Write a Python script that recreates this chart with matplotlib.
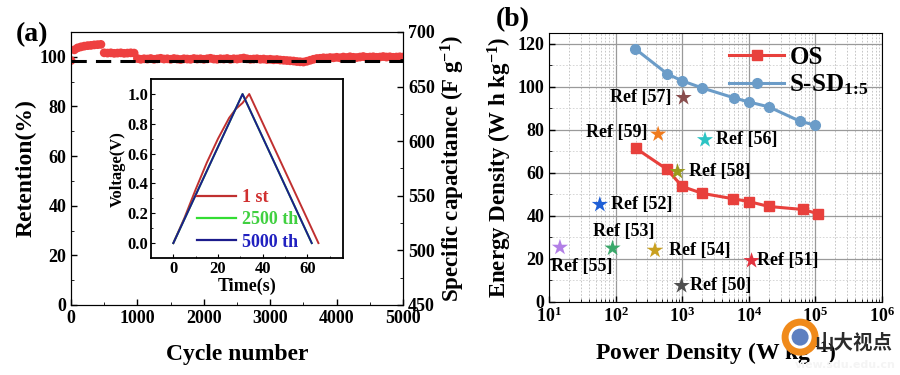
import numpy as np
import matplotlib.pyplot as plt
from matplotlib.lines import Line2D
from matplotlib.patches import Ellipse

plt.rcParams['font.family'] = ['Liberation Serif', 'DejaVu Serif']
plt.rcParams['font.weight'] = 'bold'
plt.rcParams['axes.labelweight'] = 'bold'
plt.rcParams['mathtext.fontset'] = 'custom'
plt.rcParams['mathtext.rm'] = 'Liberation Serif:bold'
plt.rcParams['mathtext.it'] = 'Liberation Serif:bold'
plt.rcParams['mathtext.bf'] = 'Liberation Serif:bold'

# (a) cycling retention, one value every 50 cycles
cycles = np.arange(0, 5001, 50)
retention = [
    98.5, 102.8, 103.6, 104.0, 104.3, 104.5, 104.6, 104.8, 104.9, 105.0,
    101.6, 101.5, 101.6, 101.4, 101.5, 101.6, 101.4, 101.5, 101.6, 101.5,
    99.3, 99.0, 99.2, 99.1, 99.3, 99.0, 99.2, 99.4, 99.1, 99.2,
    99.0, 99.3, 99.1, 98.9, 99.2, 99.1, 99.0, 99.3, 99.1, 99.2,
    99.0, 99.2, 99.4, 99.1, 99.0, 99.2, 99.1, 99.3, 99.0, 99.2,
    99.1, 99.3, 99.5, 99.2, 99.0, 99.1, 99.2, 99.0, 99.1, 98.9,
    99.0, 98.8, 98.9, 98.7, 98.6, 98.5, 98.4, 98.3, 98.1, 98.0,
    97.9, 98.2, 98.6, 99.0, 99.3, 99.4, 99.6, 99.5, 99.7, 99.6,
    99.8, 99.6, 99.9, 99.7, 100.0, 99.8, 99.7, 99.9, 100.1, 99.8,
    99.9, 100.0, 99.8, 99.9, 100.1, 99.9, 100.0, 99.8, 99.9, 100.0,
    99.9,
]
ref_line = 98.4

# inset GCD curves
t_1st = [0, 5, 10, 15, 20, 25, 28, 31, 34, 65]
v_1st = [0, 0.17, 0.36, 0.54, 0.70, 0.84, 0.90, 0.94, 1.0, 0.0]
t_2500 = [0, 31, 62]
v_2500 = [0, 1.0, 0.0]
t_5000 = [0, 31, 62]
v_5000 = [0, 1.0, 0.0]

# (b) Ragone plot
p_os = [200, 590, 1000, 2000, 5800, 10000, 20000, 65000, 110000]
e_os = [71.5, 61.7, 53.7, 50.5, 48.0, 46.7, 44.4, 43.0, 41.0]
p_ssd = [195, 600, 1000, 2000, 6000, 10000, 20000, 59000, 100000]
e_ssd = [117.8, 106.0, 102.8, 99.5, 94.9, 93.0, 90.7, 84.0, 82.2]

ref_names = ['Ref [57]', 'Ref [59]', 'Ref [56]', 'Ref [58]', 'Ref [52]',
             'Ref [53]', 'Ref [55]', 'Ref [54]', 'Ref [51]', 'Ref [50]']
ref_p = [1050, 435, 2200, 850, 58, 90, 14.6, 390, 11000, 980]
ref_e = [95.0, 78.0, 75.4, 60.6, 45.3, 25.0, 25.4, 24.0, 19.2, 7.6]
ref_colors = ['#8a4e4e', '#f07a1c', '#2cc4c4', '#9a9a1c', '#1f5fd6',
              '#3aa86a', '#b27fe6', '#c9a020', '#e2323e', '#4f4f4f']
# label offsets (points) and alignment
ref_offsets = [(-9, 0), (-8, 1), (8, 0), (8, 0), (8, 0),
               (8, 12), (16, -14), (10, 0), (4, 0), (6, 0)]
ref_align = ['right', 'right', 'left', 'left', 'left',
             'center', 'center', 'left', 'left', 'left']

fig = plt.figure(figsize=(9, 3.75), dpi=100)

# ---------- panel (a)
ax = fig.add_axes([0.0789, 0.1867, 0.369, 0.728])
ax.scatter(cycles, retention, s=40, color='#ee4040', edgecolors='none', zorder=3)
ax.axhline(ref_line, color='black', lw=2.2, ls=(0, (5, 3)), zorder=4)
ax.set_xlim(0, 5000)
ax.set_ylim(0, 110)
ax.set_xticks([0, 1000, 2000, 3000, 4000, 5000])
ax.set_yticks([0, 20, 40, 60, 80, 100])
ax.set_xticks(np.arange(500, 5000, 1000), minor=True)
ax.set_yticks(np.arange(10, 110, 20), minor=True)
ax.tick_params(labelsize=13, direction='in', length=4, width=1)
ax.tick_params(which='minor', direction='in', length=2)
ax.set_xlabel('Cycle number', fontsize=17, labelpad=12)
ax.set_ylabel('Retention(%)', fontsize=17, labelpad=2)

ax2 = ax.twinx()
ax2.set_ylim(450, 700)
ax2.set_yticks([450, 500, 550, 600, 650, 700])
ax2.set_yticks(np.arange(475, 700, 50), minor=True)
ax2.tick_params(labelsize=13, direction='in', length=4, width=1)
ax2.tick_params(which='minor', direction='in', length=2)
ax2.set_ylabel('Specific capacitance (F g$^{-1}$)', fontsize=16.5, labelpad=3)

ins = fig.add_axes([0.1678, 0.312, 0.2133, 0.477])
ins.plot(t_1st, v_1st, color='#c03030', lw=1.4)
ins.plot(t_2500, v_2500, color='#33dd33', lw=1.4)
ins.plot(t_5000, v_5000, color='#1c1c8c', lw=1.4)
ins.set_xlim(-10, 76)
ins.set_ylim(-0.1, 1.1)
ins.set_xticks([0, 20, 40, 60])
ins.set_yticks([0.0, 0.2, 0.4, 0.6, 0.8, 1.0])
ins.set_yticks(np.arange(0.1, 1.0, 0.2), minor=True)
ins.set_xticks(np.arange(10, 80, 20), minor=True)
ins.tick_params(labelsize=12, direction='in', length=3, pad=2)
ins.tick_params(which='minor', direction='in', length=1.5)
ins.set_xlabel('Time(s)', fontsize=13, labelpad=1)
ins.set_ylabel('Voltage(V)', fontsize=12, labelpad=1)
for s in ins.spines.values():
    s.set_linewidth(1.3)
leg_handles = [Line2D([], [], color=c, lw=1.6) for c in ['#c03030', '#33dd33', '#1c1c8c']]
leg = ins.legend(leg_handles, ['1 st', '2500 th', '5000 th'], loc='lower left',
                 bbox_to_anchor=(0.2, 0.0), frameon=False, fontsize=13,
                 handlelength=2.2, handletextpad=0.3, labelspacing=0.3,
                 borderaxespad=0.0)
for txt, c in zip(leg.get_texts(), ['#d03030', '#40d040', '#2020c0']):
    txt.set_color(c)

fig.text(0.017, 0.89, '(a)', fontsize=20, weight='bold')

# ---------- panel (b)
bx = fig.add_axes([0.61, 0.1947, 0.37, 0.717])
bx.set_xscale('log')
bx.set_xlim(10, 1e6)
bx.set_ylim(0, 125)
bx.set_yticks([0, 20, 40, 60, 80, 100, 120])
bx.set_yticks(np.arange(10, 125, 20), minor=True)
bx.grid(True, which='major', color='#9a9a9a', lw=0.9)
bx.grid(True, which='minor', axis='x', color='#bdbdbd', lw=0.6, ls=(0, (2, 2)))
bx.grid(True, which='minor', axis='y', color='#d0d0d0', lw=0.6, ls=(0, (2, 2)))
bx.set_axisbelow(True)
bx.plot(p_os, e_os, color='#e8403c', lw=2.2, marker='s', ms=7, label='OS', zorder=3)
bx.plot(p_ssd, e_ssd, color='#6b9cc8', lw=2.2, marker='o', ms=7,
        label=r'S-SD$_{1\!:\!5}$', zorder=3)
for name, p, e, c, off, ha in zip(ref_names, ref_p, ref_e, ref_colors, ref_offsets, ref_align):
    bx.scatter([p], [e], marker='*', s=150, color=c, edgecolors='none', zorder=4)
    bx.annotate(name, (p, e), xytext=off, textcoords='offset points',
                ha=ha, va='center', fontsize=13, weight='bold', zorder=5)
bx.tick_params(labelsize=13, direction='in', length=4, width=1)
bx.tick_params(which='minor', direction='in', length=2)
bx.set_xlabel('Power Density (W kg$^{-1}$)', fontsize=17, labelpad=10)
bx.set_ylabel('Energy Density (W h kg$^{-1}$)', fontsize=16.5, labelpad=2)
bx.legend(loc='upper right', frameon=False, fontsize=18, handlelength=2.2,
          handletextpad=0.2, labelspacing=0.15, borderaxespad=0.1)

fig.text(0.551, 0.93, '(b)', fontsize=20, weight='bold')

# watermark
fig.patches.append(Ellipse((0.889, 0.101), 30 / 900, 30 / 375, transform=fig.transFigure,
                           facecolor='white', edgecolor='#f08a1a', lw=5,
                           figure=fig, zorder=10))
fig.patches.append(Ellipse((0.889, 0.101), 17 / 900, 17 / 375, transform=fig.transFigure,
                           facecolor='#5d7fc0', edgecolor='none', figure=fig, zorder=11))
fig.text(0.905, 0.085, '山大视点', fontsize=14, color='#2b2b2b', zorder=12, va='center',
         family=['Noto Sans CJK SC', 'DejaVu Sans'], weight='bold')
fig.text(0.995, 0.027, 'view.sdu.edu.cn', fontsize=8, color='#f4f4f4', zorder=12,
         ha='right', va='center', family=['DejaVu Sans'], weight='bold')

fig.savefig('out.png', dpi=100)
